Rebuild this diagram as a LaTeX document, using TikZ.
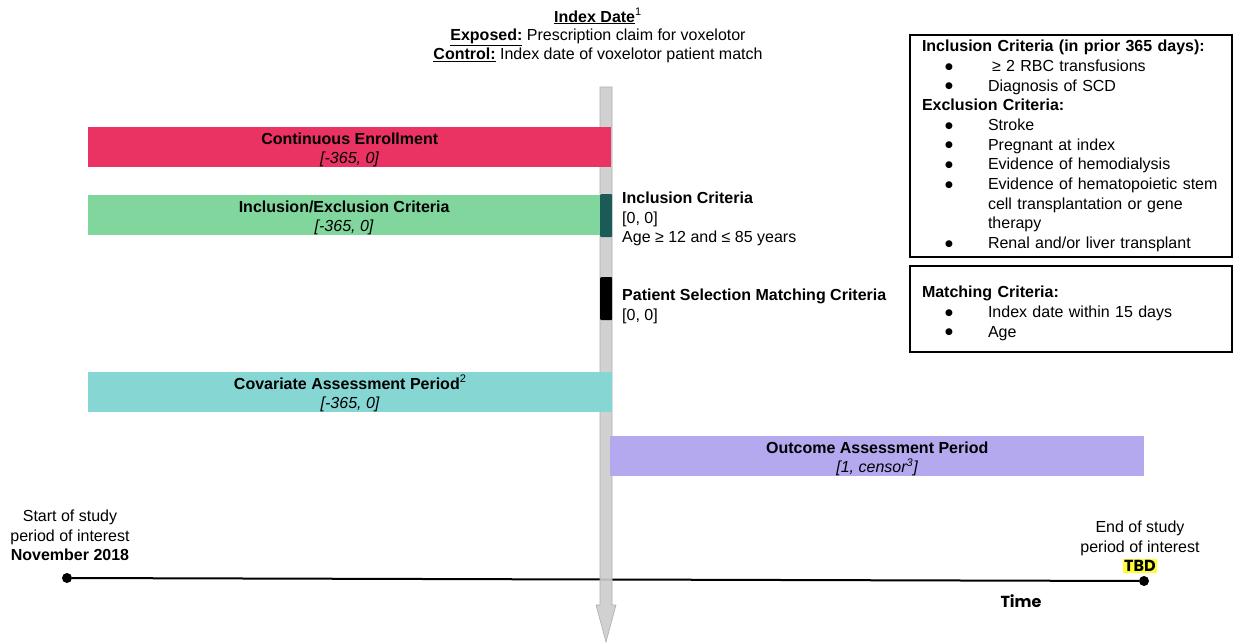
\documentclass[tikz,border=0pt]{standalone}
\usepackage{fontspec}
\setmainfont{Liberation Sans}
\newfontfamily\poppins{Poppins}
\newfontfamily\symfont{DejaVu Sans}
\usetikzlibrary{arrows.meta, positioning}

\definecolor{enrollred}{HTML}{EA3363}
\definecolor{critgreen}{HTML}{80D69C}
\definecolor{critteal}{HTML}{1C5A57}
\definecolor{covarcyan}{HTML}{86D7D3}
\definecolor{outcomepurple}{HTML}{B4A8EF}
\definecolor{axisgray}{HTML}{CCCCCC}
\definecolor{tbdyellow}{HTML}{FFFF33}

% bullet line inside the criteria boxes
\newcommand{\critem}[1]{\hspace*{23pt}\makebox[43pt][l]{\raisebox{2.3pt}{\symfont\fontsize{9}{9}\selectfont ●}}#1}
% small footnote marks
\newcommand{\fnmark}[1]{\textsuperscript{\fontsize{11}{11}\selectfont #1}}

\begin{document}
\begin{tikzpicture}[
    x=1pt, y=-1pt,
    txt/.style={font=\fontsize{16}{19.5}\selectfont, inner sep=0pt},
    bar/.style={txt, anchor=north west, minimum height=40pt, align=center},
    block/.style={anchor=north west, minimum width=12pt, minimum height=43pt, inner sep=0pt, rounded corners=1pt},
    critbox/.style={txt, draw, line width=2pt, anchor=north west, text width=298pt,
                    inner xsep=12pt, align=left, font=\fontsize{16}{19.7}\selectfont},
    dot/.style={circle, fill=black, inner sep=0pt, minimum size=10pt},
    timeline/.style={line width=2pt},
]
\useasboundingbox (0,0) rectangle (1241,643);

% Study period time line
\node[dot] (startdot) at (67,578) {};
\node[dot] (enddot) at (1144,581) {};
\draw[timeline] (startdot) -- (enddot);

\node[txt, anchor=north, align=center] (starttext) at (70,510)
     {Start of study\\period of interest\\\textbf{November 2018}};
\node[txt, anchor=north, align=center] (endtext) at (1140,521)
     {End of study\\period of interest\\{\fboxsep=1.5pt\colorbox{tbdyellow}{\poppins\bfseries TBD}}};
\node[txt, font=\poppins\bfseries\fontsize{16}{19.5}\selectfont] (timelbl) at (1021,601) {Time};

% Index date axis (grey arrow)
\filldraw[fill=axisgray, draw=axisgray!85!black, fill opacity=0.9, line width=0.6pt]
    (600,87) -- (612,87) -- (612,605) -- (616,605) -- (606,642)
    -- (596,605) -- (600,605) -- cycle;

\node[txt, anchor=north, align=center, font=\fontsize{16}{18.8}\selectfont] (indexdate) at (598,8)
     {\underline{\textbf{Index Date}}\fnmark{1}\\
      \underline{\textbf{Exposed:}} Prescription claim for voxelotor\\
      \underline{\textbf{Control:}} Index date of voxelotor patient match};

% Periods relative to index date
\node[bar, fill=enrollred, minimum width=523pt] (enroll) at (88,127)
     {\rule{0pt}{16.5pt}\textbf{Continuous Enrollment}\\\textit{[-365, 0]}};
\node[bar, fill=critgreen, minimum width=512pt] (inclexcl) at (88,195)
     {\rule{0pt}{16.5pt}\textbf{Inclusion/Exclusion Criteria}\\\textit{[-365, 0]}};
\node[block, fill=critteal] (inclblock) at (600,194) {};
\node[block, fill=black] (matchblock) at (600,277) {};
\node[bar, fill=covarcyan, minimum width=524pt] (covar) at (88,372)
     {\rule{0pt}{16.5pt}\textbf{Covariate Assessment Period}\fnmark{2}\\\textit{[-365, 0]}};
\node[bar, fill=outcomepurple, minimum width=534pt] (outcome) at (610,436)
     {\rule{0pt}{16.5pt}\textbf{Outcome Assessment Period}\\\textit{[1, censor\fnmark{3}]}};

% Day-0 criteria
\node[txt, anchor=north west, align=left] (inclcrit) at (622,192)
     {\textbf{Inclusion Criteria}\\{}[0, 0]\\Age ≥ 12 and ≤ 85 years};
\node[txt, anchor=north west, align=left] (matchcrit) at (622,289)
     {\textbf{Patient Selection Matching Criteria}\\{}[0, 0]};

% Criteria boxes
\node[critbox, minimum height=222pt] (critbox) at (909,34)
     {\textbf{Inclusion Criteria (in prior 365 days):}\\
      \critem{\hspace*{4pt}≥ 2 RBC transfusions}\\
      \critem{Diagnosis of SCD}\\
      \textbf{Exclusion Criteria:}\\
      \critem{Stroke}\\
      \critem{Pregnant at index}\\
      \critem{Evidence of hemodialysis}\\
      \critem{Evidence of hematopoietic stem}\\
      \hspace*{66pt}cell transplantation or gene\\
      \hspace*{66pt}therapy\\
      \critem{Renal and/or liver transplant}};
\node[critbox, minimum height=86pt] (matchbox) at (909,265)
     {\rule{0pt}{20pt}\textbf{Matching Criteria:}\\
      \critem{Index date within 15 days}\\
      \critem{Age}};

\end{tikzpicture}
\end{document}
